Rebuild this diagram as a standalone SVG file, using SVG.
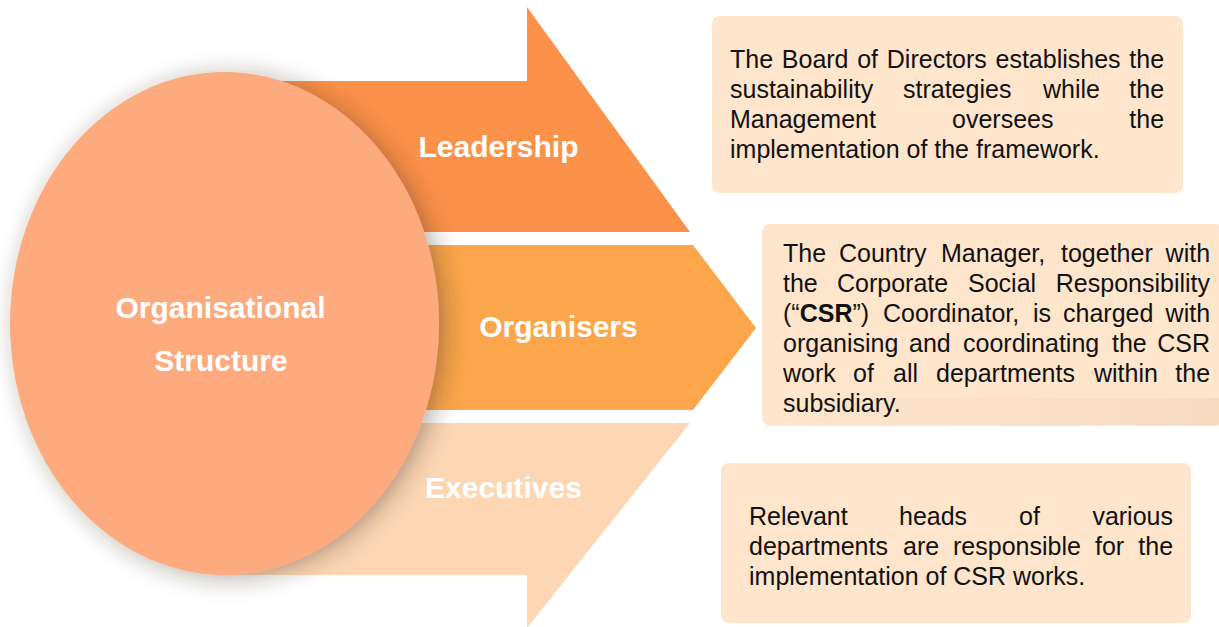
<svg xmlns="http://www.w3.org/2000/svg" width="1219" height="627" viewBox="0 0 1219 627">
  <defs>
    <filter id="softShadow" x="-20%" y="-20%" width="140%" height="140%">
      <feGaussianBlur in="SourceAlpha" stdDeviation="12" result="blur"/>
      <feOffset in="blur" dx="6" dy="3" result="off"/>
      <feFlood flood-color="#3a2a20" flood-opacity="0.38"/>
      <feComposite in2="off" operator="in" result="shadow"/>
      <feMerge>
        <feMergeNode in="shadow"/>
        <feMergeNode in="SourceGraphic"/>
      </feMerge>
    </filter>
    <linearGradient id="boxShade" x1="0" y1="0" x2="1" y2="0">
      <stop offset="0" stop-color="#d9b894" stop-opacity="0"/>
      <stop offset="1" stop-color="#d9b894" stop-opacity="0.22"/>
    </linearGradient>
    <style>
      .band-label { font-family: "Liberation Sans", Arial, sans-serif; font-weight: bold; font-size: 30px; fill: #ffffff; text-anchor: middle; }
      .box { fill: #fee5cc; }
      .body { font-family: "Liberation Sans", Arial, sans-serif; font-size: 25px; fill: #111111; }
      .strong { font-weight: bold; }
    </style>
  </defs>

  <rect width="1219" height="627" fill="#ffffff"/>

  <!-- Three arrow bands fanning out of the central ellipse -->
  <g id="leadership">
    <path d="M224,81 H527 V7 L690,232 H224 Z" fill="#fc914a"/>
    <text class="band-label" x="498.5" y="157">Leadership</text>
  </g>
  <g id="organisers">
    <path d="M224,245 H693 L756,328 L693,410 H224 Z" fill="#fca64c"/>
    <text class="band-label" x="558.5" y="337">Organisers</text>
  </g>
  <g id="executives">
    <path d="M224,423 H690 L527,628 V575 H224 Z" fill="#fdd7b4"/>
    <text class="band-label" x="503.5" y="498">Executives</text>
  </g>

  <!-- Central ellipse -->
  <g id="organisational-structure">
    <ellipse cx="224.5" cy="323.5" rx="214.5" ry="251.5" fill="#fcaa7e" filter="url(#softShadow)"/>
    <text class="band-label" x="220.5" y="318">Organisational</text>
    <text class="band-label" x="221" y="371">Structure</text>
  </g>

  <!-- Description boxes -->
  <g id="leadership-note">
    <rect class="box" x="712" y="16" width="471" height="177" rx="8"/>
    <text class="body" y="68"><tspan x="730">The</tspan><tspan x="781.8">Board</tspan><tspan x="857.2">of</tspan><tspan x="886.8">Directors</tspan><tspan x="995.5">establishes</tspan><tspan x="1129.3">the</tspan></text>
    <text class="body" y="98"><tspan x="730">sustainability</tspan><tspan x="903">strategies</tspan><tspan x="1043">while</tspan><tspan x="1129.3">the</tspan></text>
    <text class="body" y="128"><tspan x="730">Management</tspan><tspan x="952">oversees</tspan><tspan x="1129.3">the</tspan></text>
    <text class="body" x="730" y="158">implementation of the framework.</text>
  </g>

  <g id="organisers-note">
    <rect class="box" x="762" y="224" width="462" height="202" rx="8"/>
    <rect x="766" y="398" width="453" height="27" fill="url(#boxShade)"/>
    <text class="body" y="262"><tspan x="783">The</tspan><tspan x="839">Country</tspan><tspan x="941">Manager,</tspan><tspan x="1061">together</tspan><tspan x="1165.6">with</tspan></text>
    <text class="body" y="292"><tspan x="783">the</tspan><tspan x="837">Corporate</tspan><tspan x="968">Social</tspan><tspan x="1055.8">Responsibility</tspan></text>
    <text class="body" y="322"><tspan x="783">(“</tspan><tspan class="strong">CSR</tspan><tspan>”)</tspan><tspan x="883">Coordinator,</tspan><tspan x="1033">is</tspan><tspan x="1063">charged</tspan><tspan x="1165.6">with</tspan></text>
    <text class="body" y="352"><tspan x="783">organising</tspan><tspan x="909">and</tspan><tspan x="963">coordinating</tspan><tspan x="1112">the</tspan><tspan x="1157.2">CSR</tspan></text>
    <text class="body" y="382"><tspan x="783">work</tspan><tspan x="853">of</tspan><tspan x="893">all</tspan><tspan x="936">departments</tspan><tspan x="1094">within</tspan><tspan x="1175.3">the</tspan></text>
    <text class="body" x="783" y="412">subsidiary.</text>
  </g>

  <g id="executives-note">
    <rect class="box" x="721" y="463" width="470" height="160" rx="8"/>
    <text class="body" y="525"><tspan x="749">Relevant</tspan><tspan x="899">heads</tspan><tspan x="1019">of</tspan><tspan x="1092.4">various</tspan></text>
    <text class="body" y="555"><tspan x="749">departments</tspan><tspan x="903">are</tspan><tspan x="953">responsible</tspan><tspan x="1095">for</tspan><tspan x="1138.3">the</tspan></text>
    <text class="body" x="749" y="585">implementation of CSR works.</text>
  </g>

  <!-- No separate connectors: the arrow bands carry the flow -->
  <g id="connectors"/>
</svg>
